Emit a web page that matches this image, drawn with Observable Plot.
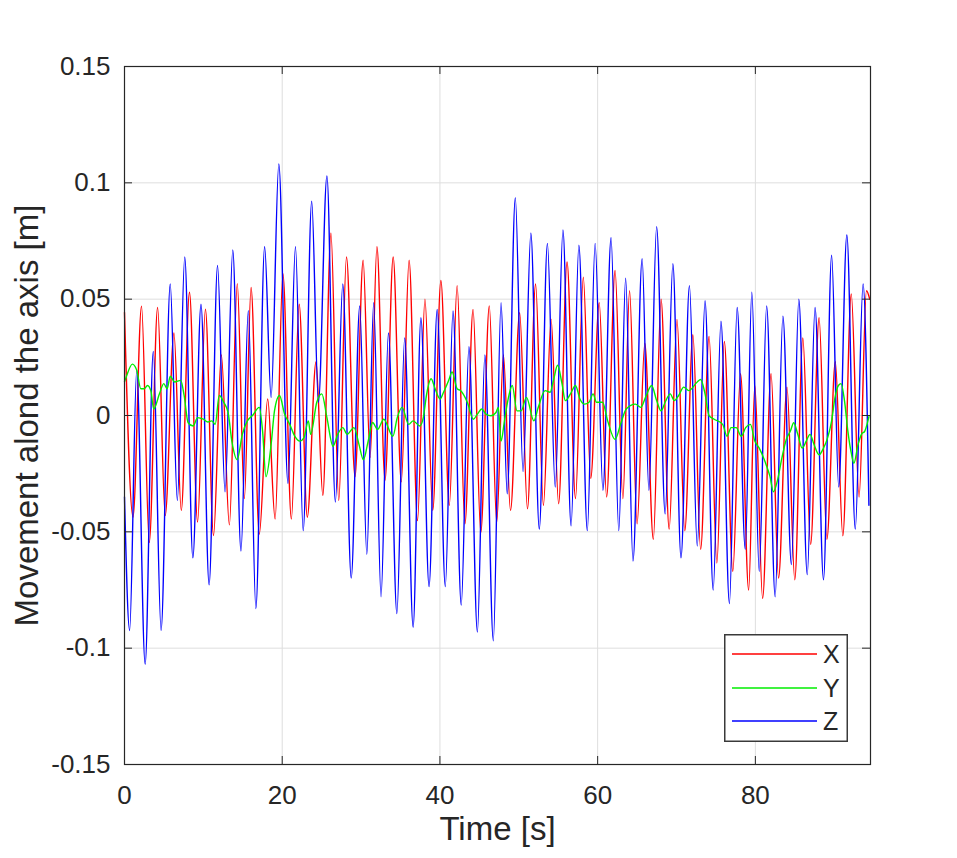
<!DOCTYPE html>
<html>
<head>
<meta charset="utf-8">
<script src="https://cdn.jsdelivr.net/npm/d3@7"></script>
<script src="https://cdn.jsdelivr.net/npm/@observablehq/plot@0.6"></script>
<style>
  html, body { margin: 0; padding: 0; background: #ffffff; }
  #wrap { position: relative; width: 957px; height: 858px; font-family: "Liberation Sans", Arial, sans-serif; }
  #legend { position: absolute; left: 724px; top: 634px; }
</style>
</head>
<body>
<div id="wrap"></div>
<script>
// Series X (red): time of each extremum [s] and value [m]
const timeX = [0, 1.08, 2.16, 3.14, 4.2, 5.16, 6.27, 7.2, 8.24, 9.27, 10.26, 11.29, 12.28, 13.3, 14.3, 15.2, 16.05,
  17.09, 18.16, 19.1, 20.09, 21.16, 22.15, 23.18, 24.29, 25.15, 26.18, 27.17, 28.15, 29.23, 30.26, 31.15, 32.01,
  33.04, 34.07, 35.1, 36.09, 37.16, 38.1, 39.09, 40.12, 41.19, 42.18, 43.17, 44.2, 45.18, 46.26, 47.2, 48.05,
  48.95, 50.11, 51.1, 52.13, 53.12, 54.1, 55.05, 56.12, 57.19, 58.18, 59.12, 60.2, 61.14, 62.21, 63.2, 64.05,
  65.0, 65.98, 67.06, 68.04, 69.07, 70.06, 71.05, 72.08, 73.06, 74.13, 75.12, 76.06, 77.14, 78.12, 79.15, 79.93,
  80.92, 81.99, 82.94, 84.01, 85.0, 86.02, 87.01, 88.08, 89.07, 90.14, 91.09, 92.16, 93.15, 94.09, 94.5];
const valX = [0.0443, -0.0437, 0.047, -0.0546, 0.0464, -0.043, 0.0355, -0.0408, 0.053, -0.0458, 0.0457, -0.0516, 0.026, -0.047, 0.0566, -0.0357, 0.055,
  -0.051, 0.0071, -0.0445, 0.0609, -0.0445, 0.0478, -0.0437, 0.0231, -0.0343, 0.0783, -0.0365, 0.0681, -0.0263, 0.0667, -0.018, 0.0725,
  -0.0278, 0.0681, -0.0285, 0.0667, -0.0452, 0.05, -0.0408, 0.058, -0.0386, 0.0558, -0.0466, 0.0456, -0.0503, 0.0471, -0.0459, 0.026,
  -0.0408, 0.0442, -0.0401, 0.0565, -0.0386, 0.0413, -0.0379, 0.066, -0.0357, 0.0594, -0.027, 0.0485, -0.035, 0.0623, -0.0357, 0.0536,
  -0.0466, 0.0311, -0.0532, 0.05, -0.0488, 0.0413, -0.0495, 0.0347, -0.0575, 0.034, -0.0634, 0.0318, -0.067, 0.018, -0.075, 0.0129,
  -0.0786, 0.018, -0.0699, 0.0122, -0.0706, 0.0333, -0.0554, 0.042, -0.0532, 0.0231, -0.0517, 0.0522, -0.035, 0.0536, 0.05];

// Series Y (green)
const timeY = [0, 0.14, 1.0, 1.55, 2.07, 2.5, 2.92, 3.35, 3.7, 4.43, 4.98, 5.41, 5.8, 6.36, 7.13, 7.56, 8.07, 8.71, 9.27, 10.0,
  10.56, 11.07, 11.5, 12.02, 12.58, 13.13, 13.65, 14.29, 14.94, 15.58, 16.23, 17.09, 17.51, 17.94, 18.59, 19.02, 19.66, 20.3,
  20.95, 21.59, 22.23, 22.75, 23.31, 23.61, 24.38, 25.02, 25.67, 26.44, 27.04, 27.68, 28.24, 29.1, 29.74, 30.3, 30.9, 31.46,
  32.1, 32.87, 34.03, 34.59, 35.19, 36.04, 36.6, 37.46, 37.89, 38.32, 38.88, 39.39, 40.03, 40.46, 41.11, 41.54, 42.18, 42.61,
  43.47, 44.24, 44.75, 45.31, 45.83, 46.47, 47.11, 47.4, 47.75, 48.18, 48.61, 49.17, 49.77, 50.3, 50.97, 51.91, 52.47, 53.33,
  53.97, 54.4, 54.92, 55.48, 55.9, 56.55, 57.19, 57.75, 58.35, 58.91, 59.42, 59.85, 60.62, 61.27, 62.21, 62.9, 63.63, 64.78,
  65.47, 66.07, 66.84, 67.48, 68.04, 68.56, 69.2, 69.72, 70.27, 70.92, 71.56, 72.63, 73.06, 73.62, 74.13, 74.78, 75.85, 76.41,
  76.92, 77.57, 78.21, 78.77, 79.37, 79.93, 80.49, 81.22, 81.86, 82.29, 82.81, 83.36, 83.92, 84.44, 84.87, 85.38, 85.94, 86.45,
  86.93, 87.44, 88.08, 88.64, 89.16, 89.67, 90.1, 90.53, 90.87, 91.3, 91.73, 92.16, 92.5, 93.02, 93.45, 93.88, 94.4];
const valY = [0.0145, 0.0158, 0.0221, 0.0195, 0.0115, 0.0115, 0.0129, 0.0105, 0.0028, 0.0093, 0.0137, 0.0115, 0.0169, 0.0144, 0.0151, 0.0086, -0.0031, -0.0045, -0.0009, -0.0016,
  -0.0028, -0.0023, -0.0038, 0.0086, 0.0057, 0.0013, -0.0118, -0.019, -0.0081, -0.0023, 0, 0.0035, -0.0067, -0.0263, -0.0125, 0.002, 0.0086, 0.0006,
  -0.0038, -0.0089, -0.011, -0.0096, -0.0023, -0.0081, 0.0057, 0.0093, -0.0009, -0.0132, -0.0081, -0.0052, -0.0081, -0.0052, -0.0125, -0.019, -0.011, -0.003,
  -0.006, -0.0016, -0.0089, -0.0009, 0.0035, -0.0038, -0.0023, -0.0045, -0.0009, 0.0093, 0.0158, 0.0115, 0.0071, 0.01, 0.0151, 0.0187, 0.0115, 0.0107,
  0.0057, -0.0016, 0.0006, 0.0028, 0.0006, -0.0001, 0.0013, 0.0035, -0.011, -0.0023, 0.0064, 0.0129, 0.002, 0.002, 0.0078, -0.0023, 0.0035, 0.0107,
  0.01, 0.0151, 0.0216, 0.0137, 0.0064, 0.0093, 0.0129, 0.0071, 0.0049, 0.0057, 0.0093, 0.0057, 0.0057, -0.0023, -0.0103, -0.0038, 0.0028, 0.0049,
  0.0035, 0.0078, 0.0129, 0.0064, 0.002, 0.0057, 0.0093, 0.0064, 0.0086, 0.0122, 0.0107, 0.0144, 0.0155, 0.0093, -0.0001, -0.0016, -0.0038, -0.0089,
  -0.0052, -0.0052, -0.0089, -0.0052, -0.0038, -0.011, -0.014, -0.0198, -0.0263, -0.0328, -0.0278, -0.0183, -0.0103, -0.0067, -0.0031, -0.0081, -0.014, -0.011,
  -0.0081, -0.0125, -0.0169, -0.014, -0.0096, -0.0023, 0.0078, 0.0129, 0.0137, 0.0064, -0.0067, -0.0161, -0.0205, -0.0125, -0.0081, -0.0067, -0.0005];

// Series Z (blue)
const timeZ = [0, 0.65, 1.55, 2.62, 3.65, 4.64, 5.8, 6.7, 7.64, 8.67, 9.7, 10.73, 11.8, 12.75, 13.73, 14.77, 15.7,
  16.66, 17.77, 18.59, 19.57, 20.73, 21.68, 22.66, 23.74, 24.59, 25.67, 26.74, 27.68, 28.75, 29.83, 30.73, 31.6,
  32.53, 33.47, 34.54, 35.53, 36.6, 37.59, 38.62, 39.65, 40.68, 41.66, 42.7, 43.68, 44.75, 45.7, 46.77, 47.75,
  48.53, 49.56, 50.54, 51.53, 52.6, 53.63, 54.62, 55.6, 56.63, 57.62, 58.69, 59.68, 60.67, 61.7, 62.68, 63.55,
  64.48, 65.64, 66.5, 67.48, 68.56, 69.54, 70.57, 71.64, 72.63, 73.62, 74.65, 75.64, 76.71, 77.69, 78.72, 79.55,
  80.49, 81.43, 82.51, 83.49, 84.57, 85.51, 86.58, 87.57, 88.64, 89.67, 90.57, 91.6, 92.67, 93.66, 94.4];
const valZ = [-0.035, -0.0924, 0.0195, -0.1069, 0.0275, -0.0924, 0.0565, -0.0365, 0.0681, -0.0612, 0.0478, -0.0728, 0.0645, -0.0328, 0.0711, -0.0583, 0.045,
  -0.083, 0.0725, 0.0078, 0.1081, -0.0292, 0.0725, -0.0495, 0.0921, 0.0057, 0.103, -0.0372, 0.0565, -0.0699, 0.0471, -0.0597, 0.0485,
  -0.0779, 0.0355, -0.0851, 0.0333, -0.091, 0.042, -0.0735, 0.0456, -0.0735, 0.0449, -0.0815, 0.0296, -0.0931, 0.026, -0.0968, 0.0485,
  -0.0336, 0.0936, -0.0241, 0.0783, -0.0488, 0.074, -0.0307, 0.0798, -0.0474, 0.0732, -0.0495, 0.074, -0.0321, 0.0764, -0.0495, 0.059,
  -0.0626, 0.0674, -0.0321, 0.0812, -0.0423, 0.0652, -0.0612, 0.0558, -0.0561, 0.0493, -0.075, 0.0405, -0.0808, 0.0464, -0.0575, 0.053,
  -0.067, 0.0471, -0.0779, 0.0427, -0.0641, 0.05, -0.0684, 0.0464, -0.0706, 0.0689, -0.0307, 0.0776, -0.0488, 0.0565, -0.0386];

const xTicks = [0, 20, 40, 60, 80];
const yTicks = [-0.15, -0.1, -0.05, 0, 0.05, 0.1, 0.15];
const seriesNames = ["X", "Y", "Z"];
const seriesColors = ["#ff0000", "#00ee00", "#0000ff"];
const xLabel = "Time [s]";
const yLabel = "Movement alond the axis [m]";

const toRows = (ts, vs) => ts.map((t, i) => ({t, v: vs[i]}));
const rowsX = toRows(timeX, valX);
const rowsY = toRows(timeY, valY);
const rowsZ = toRows(timeZ, valZ);

const W = 957, H = 858, ML = 124, MR = 87, MT = 66, MB = 94;
const frameW = W - ML - MR, frameH = H - MT - MB, tk = 8;
const axisColor = "#262626";
const fmtY = d => String(+d.toFixed(2));

const chart = Plot.plot({
  width: W, height: H,
  marginLeft: ML, marginRight: MR, marginTop: MT, marginBottom: MB,
  x: {domain: [0, 94.6]},
  y: {domain: [-0.15, 0.15]},
  style: {fontFamily: "'Liberation Sans', Arial, sans-serif", background: "#ffffff", color: "#262626"},
  marks: [
    Plot.gridX(xTicks, {stroke: "#dedede", strokeOpacity: 1}),
    Plot.gridY(yTicks, {stroke: "#dedede", strokeOpacity: 1}),
    Plot.line(rowsX, {x: "t", y: "v", curve: "monotone-x", stroke: seriesColors[0], strokeWidth: 1.4}),
    Plot.line(rowsZ, {x: "t", y: "v", curve: "monotone-x", stroke: seriesColors[2], strokeWidth: 1.4}),
    Plot.line(rowsY, {x: "t", y: "v", curve: "monotone-x", stroke: seriesColors[1], strokeWidth: 1.4}),
    Plot.tickX(xTicks, {x: d => d, insetTop: frameH - tk, stroke: axisColor}),
    Plot.tickX(xTicks, {x: d => d, insetBottom: frameH - tk, stroke: axisColor}),
    Plot.tickY(yTicks, {y: d => d, insetLeft: frameW - tk, stroke: axisColor}),
    Plot.tickY(yTicks, {y: d => d, insetRight: frameW - tk, stroke: axisColor}),
    Plot.axisX(xTicks, {tickSize: 0, tickPadding: 21, fontSize: 26, label: null, tickFormat: d => String(d)}),
    Plot.axisY(yTicks, {tickSize: 0, tickPadding: 14, fontSize: 26, label: null, tickFormat: fmtY}),
    Plot.frame({stroke: axisColor, strokeWidth: 1.2}),
    Plot.text([yLabel], {text: d => d, frameAnchor: "left", textAnchor: "middle", rotate: -90, dx: -97, fontSize: 33, fill: "#262626"}),
    Plot.text([xLabel], {text: d => d, frameAnchor: "bottom", dy: 75, fontSize: 33, fill: "#262626"})
  ]
});

const wrap = document.getElementById("wrap");
wrap.appendChild(chart);

// Legend: small SVG box overlaid on the lower-right of the plot frame
const lw = 124, lh = 108;
const legend = d3.create("svg").attr("id", "legend").attr("width", lw).attr("height", lh);
legend.append("rect").attr("x", 0.75).attr("y", 0.75).attr("width", lw - 1.5).attr("height", lh - 1.5)
  .attr("fill", "#ffffff").attr("stroke", "#3a3a3a").attr("stroke-width", 1.5);
const entryY = [20, 54, 87];
seriesNames.forEach((name, i) => {
  legend.append("line").attr("x1", 8).attr("x2", 93).attr("y1", entryY[i]).attr("y2", entryY[i])
    .attr("stroke", seriesColors[i]).attr("stroke-width", 1.4);
  legend.append("text").attr("x", 99).attr("y", entryY[i]).attr("dy", "0.36em")
    .attr("font-size", 25).attr("fill", "#262626")
    .attr("font-family", "'Liberation Sans', Arial, sans-serif").text(name);
});
wrap.appendChild(legend.node());
</script>
</body>
</html>
